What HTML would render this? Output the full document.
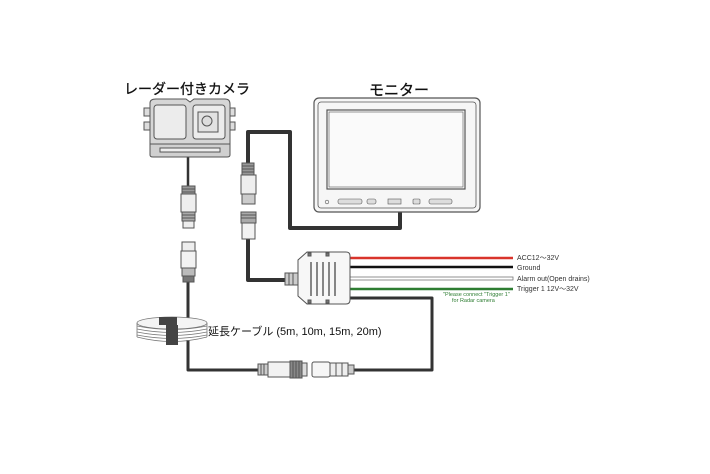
<!DOCTYPE html>
<html><head><meta charset="utf-8"><style>
html,body{margin:0;padding:0;background:#fff}
svg{display:block}
text{font-family:"Liberation Sans","Noto Sans CJK JP",sans-serif}
</style></head><body>
<svg width="710" height="474" viewBox="0 0 710 474" xmlns="http://www.w3.org/2000/svg">
<rect width="710" height="474" fill="#fff"/>
<!-- titles -->
<text x="124" y="94" font-size="14" font-weight="normal" fill="#111" stroke="#111" stroke-width="0.3">レーダー付きカメラ</text>
<text x="369" y="95" font-size="15" fill="#111" stroke="#111" stroke-width="0.3">モニター</text>

<!-- cables -->
<g fill="none" stroke="#333" stroke-linejoin="round">
<path d="M400 210 V228 H290 V132 H248 V165" stroke-width="4"/>
<path d="M248 238 V280 H288" stroke-width="4"/>
<path d="M188 155 V186" stroke-width="2.5"/>
<path d="M188 282 V320" stroke-width="3"/>
<path d="M188 340 V370 H262" stroke-width="3"/>
<path d="M352 370 H432 V298 H350" stroke-width="3"/>
</g>

<!-- camera -->
<g stroke="#555" stroke-width="1" fill="#e8e8e8">
<rect x="144" y="108" width="6" height="8" fill="#ddd"/><rect x="144" y="122" width="6" height="8" fill="#ddd"/>
<rect x="229" y="108" width="6" height="8" fill="#ddd"/><rect x="229" y="122" width="6" height="8" fill="#ddd"/>
<path d="M150 103 Q150 99 156 99 H186 L190 102 L194 99 H225 Q230 99 230 104 V144 H150 Z" fill="#d6d6d6"/>
<rect x="154" y="105" width="32" height="34" rx="3" fill="#ececec"/>
<rect x="193" y="105" width="32" height="34" rx="3" fill="#ececec"/>
<rect x="198" y="112" width="20" height="20" fill="#e2e2e2"/>
<circle cx="207" cy="121" r="5" fill="#ddd"/>
<path d="M150 144 H230 V155 Q230 157 227 157 H153 Q150 157 150 155 Z" fill="#d0d0d0"/>
<rect x="160" y="148" width="60" height="4" fill="#eee"/>
</g>

<!-- camera connector (female) -->
<g stroke="#555" stroke-width="1">
<rect x="182" y="186" width="13" height="8" fill="#999"/>
<line x1="182" y1="189" x2="195" y2="189"/><line x1="182" y1="192" x2="195" y2="192"/>
<rect x="181" y="194" width="15" height="18" fill="#eee"/>
<rect x="182" y="212" width="13" height="9" fill="#aaa"/>
<line x1="182" y1="215" x2="195" y2="215"/><line x1="182" y1="218" x2="195" y2="218"/>
<rect x="183" y="221" width="11" height="7" fill="#eee"/>
<rect x="182" y="242" width="13" height="9" fill="#eee"/>
<rect x="181" y="251" width="15" height="17" fill="#f2f2f2"/>
<rect x="182" y="268" width="13" height="8" fill="#bbb"/>
<rect x="183" y="276" width="11" height="6" fill="#777"/>
</g>

<!-- coil -->
<g fill="none" stroke="#777" stroke-width="0.8">
<ellipse cx="172" cy="323" rx="35" ry="6" fill="#f4f4f4"/>
<path d="M137 323 V337"/><path d="M207 323 V337"/>
<path d="M137 326 Q172 333 207 326"/><path d="M137 329 Q172 336 207 329"/>
<path d="M137 332 Q172 339 207 332"/><path d="M137 335 Q172 342 207 335"/>
<path d="M137 337 Q172 346 207 337"/>
</g>
<rect x="159" y="317" width="18" height="8" fill="#444"/>
<rect x="166" y="325" width="12" height="20" fill="#444"/>
<text x="208" y="335" font-size="11" fill="#111">延長ケーブル (5m, 10m, 15m, 20m)</text>

<!-- monitor connector -->
<g stroke="#555" stroke-width="1">
<rect x="242" y="163" width="12" height="12" fill="#999"/>
<line x1="242" y1="166" x2="254" y2="166"/><line x1="242" y1="169" x2="254" y2="169"/><line x1="242" y1="172" x2="254" y2="172"/>
<rect x="241" y="175" width="15" height="19" fill="#eee"/>
<rect x="242" y="194" width="13" height="10" fill="#ccc"/>
<rect x="241" y="212" width="15" height="11" fill="#aaa"/>
<line x1="241" y1="215" x2="256" y2="215"/><line x1="241" y1="218" x2="256" y2="218"/>
<rect x="242" y="223" width="13" height="16" fill="#f2f2f2"/>
</g>

<!-- monitor -->
<g stroke="#555" stroke-width="1.2">
<rect x="314" y="98" width="166" height="114" rx="5" fill="#f6f6f6"/>
<rect x="318" y="102" width="158" height="106" rx="3" fill="none" stroke-width="0.8"/>
<rect x="327" y="110" width="138" height="79" fill="#fafafa"/>
<rect x="329" y="112" width="134" height="75" fill="none" stroke-width="0.6"/>
<circle cx="327" cy="202" r="1.8" fill="none" stroke-width="0.6"/>
<rect x="338" y="199" width="24" height="5" rx="2" fill="#ddd" stroke-width="0.6"/>
<rect x="367" y="199" width="9" height="5" rx="2" fill="#ddd" stroke-width="0.6"/>
<rect x="388" y="199" width="13" height="5" fill="#ddd" stroke-width="0.6"/>
<rect x="413" y="199" width="7" height="5" rx="1" fill="#ddd" stroke-width="0.6"/>
<rect x="429" y="199" width="23" height="5" rx="2" fill="#ddd" stroke-width="0.6"/>
</g>

<!-- wires -->
<line x1="350" y1="258" x2="513" y2="258" stroke="#d9342b" stroke-width="2.5"/>
<line x1="350" y1="267" x2="513" y2="267" stroke="#111" stroke-width="2.5"/>
<rect x="350" y="277" width="163" height="3" fill="#fff" stroke="#777" stroke-width="0.8"/>
<line x1="350" y1="289" x2="513" y2="289" stroke="#2e7d32" stroke-width="2.5"/>
<g font-size="7" fill="#333">
<text x="517" y="260">ACC12〜32V</text>
<text x="517" y="270">Ground</text>
<text x="517" y="281">Alarm out(Open drains)</text>
<text x="517" y="291">Trigger 1 12V〜32V</text>
</g>
<g font-size="5.5" fill="#2e7d32">
<text x="443" y="296">"Please connect "Trigger 1"</text>
<text x="452" y="302">for Radar camera</text>
</g>

<!-- junction box -->
<g stroke="#555" stroke-width="1">
<rect x="285" y="273" width="14" height="12" fill="#ccc"/>
<line x1="289" y1="273" x2="289" y2="285"/><line x1="293" y1="273" x2="293" y2="285"/>
<path d="M307 252 H346 Q350 252 350 256 V300 Q350 304 346 304 H307 L298 296 V260 Z" fill="#f7f7f7"/>
<g stroke-width="1.4"><line x1="311" y1="262" x2="311" y2="296"/><line x1="317" y1="262" x2="317" y2="296"/><line x1="323" y1="262" x2="323" y2="296"/><line x1="329" y1="262" x2="329" y2="296"/><line x1="335" y1="262" x2="335" y2="296"/></g>
<rect x="308" y="253" width="3" height="3" fill="#777"/><rect x="326" y="253" width="3" height="3" fill="#777"/>
<rect x="308" y="300" width="3" height="3" fill="#777"/><rect x="326" y="300" width="3" height="3" fill="#777"/>
</g>

<!-- extension connectors -->
<g stroke="#555" stroke-width="1">
<rect x="258" y="364" width="10" height="11" fill="#ccc"/>
<line x1="261" y1="364" x2="261" y2="375"/><line x1="264" y1="364" x2="264" y2="375"/>
<rect x="268" y="362" width="22" height="15" fill="#f2f2f2"/>
<rect x="290" y="361" width="12" height="17" fill="#888"/>
<line x1="293" y1="361" x2="293" y2="378"/><line x1="296" y1="361" x2="296" y2="378"/><line x1="299" y1="361" x2="299" y2="378"/>
<rect x="302" y="363" width="5" height="13" fill="#ddd"/>
<rect x="312" y="362" width="18" height="15" rx="2" fill="#f6f6f6"/>
<rect x="330" y="363" width="18" height="13" fill="#eee"/>
<line x1="336" y1="363" x2="336" y2="376"/><line x1="342" y1="363" x2="342" y2="376"/>
<rect x="348" y="365" width="6" height="9" fill="#ccc"/>
</g>
</svg>
</body></html>
